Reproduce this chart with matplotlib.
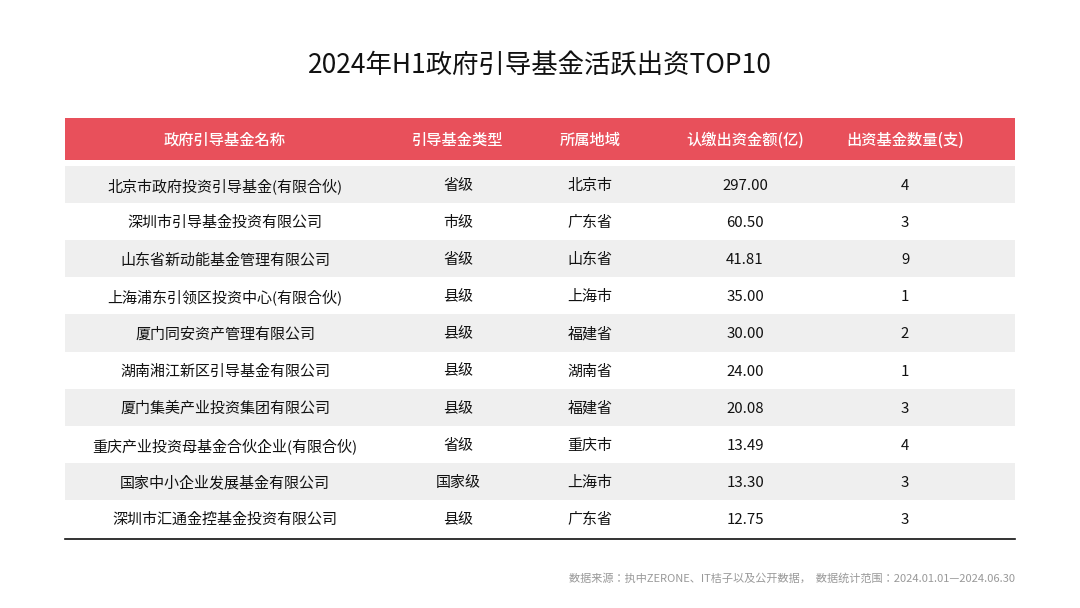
import matplotlib
matplotlib.use("Agg")
import matplotlib.pyplot as plt
from matplotlib.patches import Rectangle
from matplotlib import font_manager as fm

cands = [f for f in fm.findSystemFonts() if "CJK" in f]
for f in cands:
    try:
        fm.fontManager.addfont(f)
    except Exception:
        pass
names_avail = {f.name for f in fm.fontManager.ttflist}
cjk = None
for n in ["Noto Sans CJK SC", "Noto Sans CJK JP", "Noto Sans SC", "Noto Sans CJK TC"]:
    if n in names_avail:
        cjk = n
        break
plt.rcParams["font.family"] = "sans-serif"
plt.rcParams["font.sans-serif"] = [cjk or "Noto Sans CJK SC", "DejaVu Sans"]

title = "2024年H1政府引导基金活跃出资TOP10"
headers = ["政府引导基金名称", "引导基金类型", "所属地域", "认缴出资金额(亿)", "出资基金数量(支)"]
names = ["北京市政府投资引导基金(有限合伙)", "深圳市引导基金投资有限公司", "山东省新动能基金管理有限公司",
         "上海浦东引领区投资中心(有限合伙)", "厦门同安资产管理有限公司", "湖南湘江新区引导基金有限公司",
         "厦门集美产业投资集团有限公司", "重庆产业投资母基金合伙企业(有限合伙)", "国家中小企业发展基金有限公司",
         "深圳市汇通金控基金投资有限公司"]
types = ["省级", "市级", "省级", "县级", "县级", "县级", "县级", "省级", "国家级", "县级"]
regions = ["北京市", "广东省", "山东省", "上海市", "福建省", "湖南省", "福建省", "重庆市", "上海市", "广东省"]
amounts = [297.00, 60.50, 41.81, 35.00, 30.00, 24.00, 20.08, 13.49, 13.30, 12.75]
counts = [4, 3, 9, 1, 2, 1, 3, 4, 3, 3]
footer = "数据来源：执中ZERONE、IT桔子以及公开数据，  数据统计范围：2024.01.01—2024.06.30"

fig = plt.figure(figsize=(10.8, 6.08), dpi=100)
ax = fig.add_axes([0, 0, 1, 1])
ax.set_xlim(0, 1080); ax.set_ylim(608, 0); ax.axis("off")

ax.text(540, 66, title, ha="center", va="center", fontsize=19, color="#111111")
x0, x1 = 65, 1015
ax.add_patch(Rectangle((x0, 118), x1 - x0, 42, color="#E8505B", lw=0))
cx = [225, 458, 590, 745, 905]
for c, h in zip(cx, headers):
    ax.text(c, 140, h, ha="center", va="center", fontsize=11, color="white", fontweight="medium")
top, rh = 166, 37.1
for i in range(10):
    y = top + i * rh
    if i % 2 == 0:
        ax.add_patch(Rectangle((x0, y), x1 - x0, rh, color="#EFEFEF", lw=0))
    vals = [names[i], types[i], regions[i], f"{amounts[i]:.2f}", str(counts[i])]
    for c, v in zip(cx, vals):
        ax.text(c, y + rh / 2 + 1.5, v, ha="center", va="center", fontsize=10.8, color="#111111")
ax.plot([x0, x1], [top + 10 * rh + 2] * 2, color="#111111", lw=1.2)
ax.text(1015, 578, footer, ha="right", va="center", fontsize=8, color="#999999")
fig.savefig("out.png", dpi=100)
